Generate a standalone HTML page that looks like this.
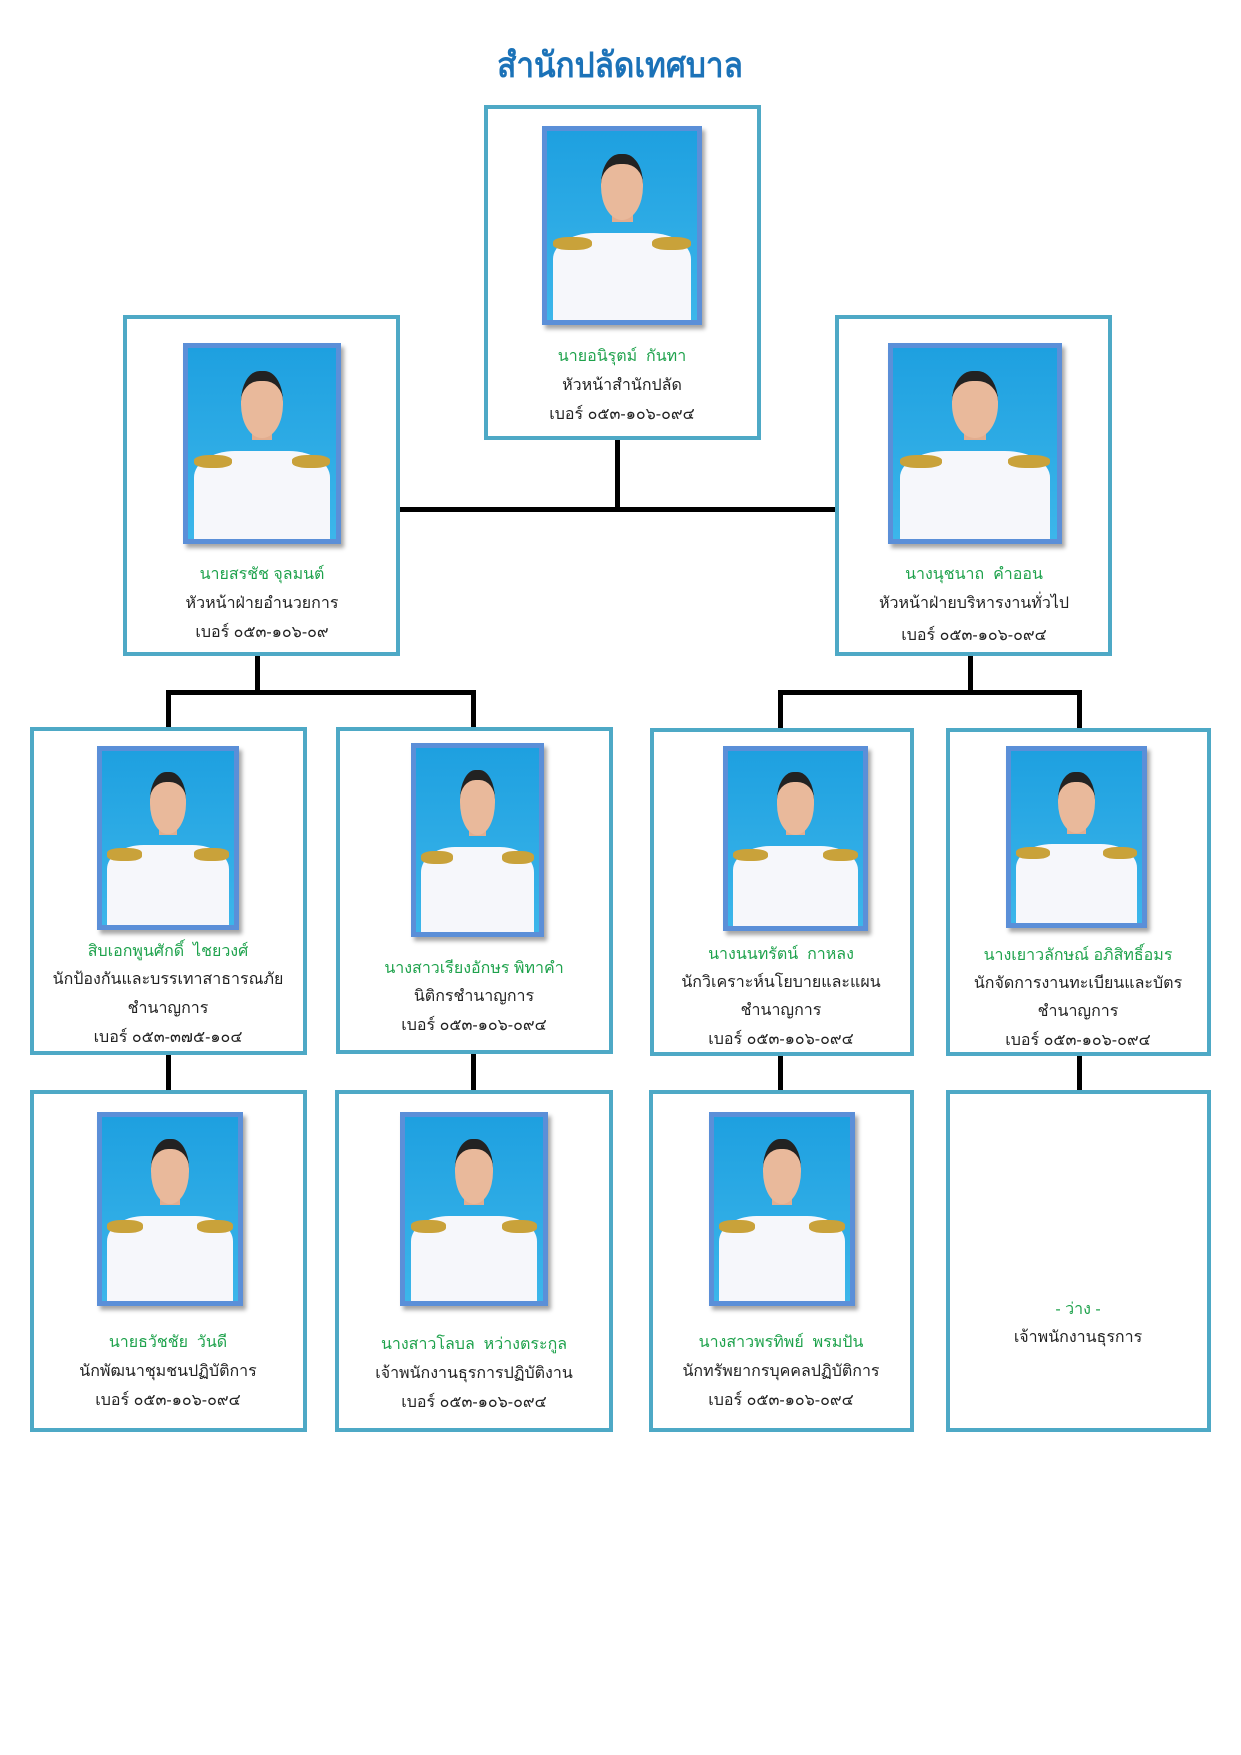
<!DOCTYPE html>
<html><head><meta charset="utf-8">
<style>
body{margin:0;background:#fff;}
#p{position:relative;width:1241px;height:1755px;overflow:hidden;font-family:"Liberation Sans","DejaVu Sans",sans-serif;}
.b{position:absolute;border:4px solid #4ea9c6;box-sizing:border-box;background:#fff;}
.l{position:absolute;background:#000;}
.ph{position:absolute;border:5px solid #5b8fd8;box-sizing:border-box;background:linear-gradient(#1ea0e0,#3cb6ea);overflow:hidden;box-shadow:3px 4px 4px rgba(0,0,0,.35);}
.ph .body{position:absolute;left:4%;right:4%;bottom:0;height:46%;background:#f6f7fb;border-radius:30% 30% 0 0;}
.ph .ep{position:absolute;top:56%;width:26%;height:7%;background:#c9a23a;border-radius:40%;}
.ph .head{position:absolute;left:36%;width:28%;top:12%;height:30%;background:#e9b99b;border-radius:45% 45% 50% 50%;border-top:10px solid #222;}
.ph .neck{position:absolute;left:43%;width:14%;top:38%;height:10%;background:#e2ad8f;}
.t{position:absolute;text-align:center;font-size:16px;color:#222;white-space:nowrap;transform:translateX(-50%);}
.g{color:#1ea24c;}
</style></head><body><div id="p">
<div class="t" style="left:620px;top:38px;font-size:35px;color:#1b72b8;font-weight:bold;transform:translateX(-50%) scaleX(0.9);">สำนักปลัดเทศบาล</div>

<div class="l" style="left:615px;top:439px;width:5px;height:72px"></div>
<div class="l" style="left:399px;top:507px;width:437px;height:5px"></div>
<div class="l" style="left:255px;top:655px;width:5px;height:38px"></div>
<div class="l" style="left:166px;top:690px;width:310px;height:5px"></div>
<div class="l" style="left:166px;top:690px;width:5px;height:38px"></div>
<div class="l" style="left:471px;top:690px;width:5px;height:38px"></div>
<div class="l" style="left:968px;top:655px;width:5px;height:38px"></div>
<div class="l" style="left:778px;top:690px;width:304px;height:5px"></div>
<div class="l" style="left:778px;top:690px;width:5px;height:38px"></div>
<div class="l" style="left:1077px;top:690px;width:5px;height:38px"></div>
<div class="l" style="left:166px;top:1054px;width:5px;height:36px"></div>
<div class="l" style="left:471px;top:1054px;width:5px;height:36px"></div>
<div class="l" style="left:778px;top:1054px;width:5px;height:36px"></div>
<div class="l" style="left:1077px;top:1054px;width:5px;height:36px"></div>

<div class="b" style="left:484px;top:105px;width:277px;height:335px"></div>
<div class="ph" style="left:542px;top:126px;width:160px;height:199px"><div class="body"></div><div class="ep" style="left:4%"></div><div class="ep" style="right:4%"></div><div class="neck"></div><div class="head"></div></div>
<div class="t g" style="left:622px;top:344px">นายอนิรุตม์ &nbsp;กันทา</div>
<div class="t" style="left:622px;top:373px">หัวหน้าสำนักปลัด</div>
<div class="t" style="left:622px;top:402px">เบอร์ ๐๕๓-๑๐๖-๐๙๔</div>

<div class="b" style="left:123px;top:315px;width:277px;height:341px"></div>
<div class="ph" style="left:183px;top:343px;width:158px;height:201px"><div class="body"></div><div class="ep" style="left:4%"></div><div class="ep" style="right:4%"></div><div class="neck"></div><div class="head"></div></div>
<div class="t g" style="left:262px;top:562px">นายสรชัช จุลมนต์</div>
<div class="t" style="left:262px;top:591px">หัวหน้าฝ่ายอำนวยการ</div>
<div class="t" style="left:262px;top:620px">เบอร์ ๐๕๓-๑๐๖-๐๙</div>

<div class="b" style="left:835px;top:315px;width:277px;height:341px"></div>
<div class="ph" style="left:888px;top:343px;width:174px;height:201px"><div class="body"></div><div class="ep" style="left:4%"></div><div class="ep" style="right:4%"></div><div class="neck"></div><div class="head"></div></div>
<div class="t g" style="left:974px;top:562px">นางนุชนาถ &nbsp;คำออน</div>
<div class="t" style="left:974px;top:591px">หัวหน้าฝ่ายบริหารงานทั่วไป</div>
<div class="t" style="left:974px;top:623px">เบอร์ ๐๕๓-๑๐๖-๐๙๔</div>

<div class="b" style="left:30px;top:727px;width:277px;height:328px"></div>
<div class="ph" style="left:97px;top:746px;width:142px;height:184px"><div class="body"></div><div class="ep" style="left:4%"></div><div class="ep" style="right:4%"></div><div class="neck"></div><div class="head"></div></div>
<div class="t g" style="left:168px;top:939px">สิบเอกพูนศักดิ์ &nbsp;ไชยวงศ์</div>
<div class="t" style="left:168px;top:967px">นักป้องกันและบรรเทาสาธารณภัย</div>
<div class="t" style="left:168px;top:996px">ชำนาญการ</div>
<div class="t" style="left:168px;top:1025px">เบอร์ ๐๕๓-๓๗๕-๑๐๔</div>

<div class="b" style="left:336px;top:727px;width:277px;height:327px"></div>
<div class="ph" style="left:411px;top:743px;width:133px;height:194px"><div class="body"></div><div class="ep" style="left:4%"></div><div class="ep" style="right:4%"></div><div class="neck"></div><div class="head"></div></div>
<div class="t g" style="left:474px;top:956px">นางสาวเรียงอักษร พิทาคำ</div>
<div class="t" style="left:474px;top:984px">นิติกรชำนาญการ</div>
<div class="t" style="left:474px;top:1013px">เบอร์ ๐๕๓-๑๐๖-๐๙๔</div>

<div class="b" style="left:650px;top:728px;width:264px;height:328px"></div>
<div class="ph" style="left:723px;top:746px;width:145px;height:185px"><div class="body"></div><div class="ep" style="left:4%"></div><div class="ep" style="right:4%"></div><div class="neck"></div><div class="head"></div></div>
<div class="t g" style="left:781px;top:942px">นางนนทรัตน์ &nbsp;กาหลง</div>
<div class="t" style="left:781px;top:970px">นักวิเคราะห์นโยบายและแผน</div>
<div class="t" style="left:781px;top:998px">ชำนาญการ</div>
<div class="t" style="left:781px;top:1027px">เบอร์ ๐๕๓-๑๐๖-๐๙๔</div>

<div class="b" style="left:946px;top:728px;width:265px;height:328px"></div>
<div class="ph" style="left:1006px;top:746px;width:141px;height:182px"><div class="body"></div><div class="ep" style="left:4%"></div><div class="ep" style="right:4%"></div><div class="neck"></div><div class="head"></div></div>
<div class="t g" style="left:1078px;top:943px">นางเยาวลักษณ์ อภิสิทธิ์อมร</div>
<div class="t" style="left:1078px;top:971px">นักจัดการงานทะเบียนและบัตร</div>
<div class="t" style="left:1078px;top:999px">ชำนาญการ</div>
<div class="t" style="left:1078px;top:1028px">เบอร์ ๐๕๓-๑๐๖-๐๙๔</div>

<div class="b" style="left:30px;top:1090px;width:277px;height:342px"></div>
<div class="ph" style="left:97px;top:1112px;width:146px;height:194px"><div class="body"></div><div class="ep" style="left:4%"></div><div class="ep" style="right:4%"></div><div class="neck"></div><div class="head"></div></div>
<div class="t g" style="left:168px;top:1330px">นายธวัชชัย &nbsp;วันดี</div>
<div class="t" style="left:168px;top:1359px">นักพัฒนาชุมชนปฏิบัติการ</div>
<div class="t" style="left:168px;top:1388px">เบอร์ ๐๕๓-๑๐๖-๐๙๔</div>

<div class="b" style="left:335px;top:1090px;width:278px;height:342px"></div>
<div class="ph" style="left:400px;top:1112px;width:148px;height:194px"><div class="body"></div><div class="ep" style="left:4%"></div><div class="ep" style="right:4%"></div><div class="neck"></div><div class="head"></div></div>
<div class="t g" style="left:474px;top:1332px">นางสาวโลบล &nbsp;หว่างตระกูล</div>
<div class="t" style="left:474px;top:1361px">เจ้าพนักงานธุรการปฏิบัติงาน</div>
<div class="t" style="left:474px;top:1390px">เบอร์ ๐๕๓-๑๐๖-๐๙๔</div>

<div class="b" style="left:649px;top:1090px;width:265px;height:342px"></div>
<div class="ph" style="left:709px;top:1112px;width:146px;height:194px"><div class="body"></div><div class="ep" style="left:4%"></div><div class="ep" style="right:4%"></div><div class="neck"></div><div class="head"></div></div>
<div class="t g" style="left:781px;top:1330px">นางสาวพรทิพย์ &nbsp;พรมปัน</div>
<div class="t" style="left:781px;top:1359px">นักทรัพยากรบุคคลปฏิบัติการ</div>
<div class="t" style="left:781px;top:1388px">เบอร์ ๐๕๓-๑๐๖-๐๙๔</div>

<div class="b" style="left:946px;top:1090px;width:265px;height:342px"></div>
<div class="t g" style="left:1078px;top:1297px">- ว่าง -</div>
<div class="t" style="left:1078px;top:1325px">เจ้าพนักงานธุรการ</div>
</div></body></html>
